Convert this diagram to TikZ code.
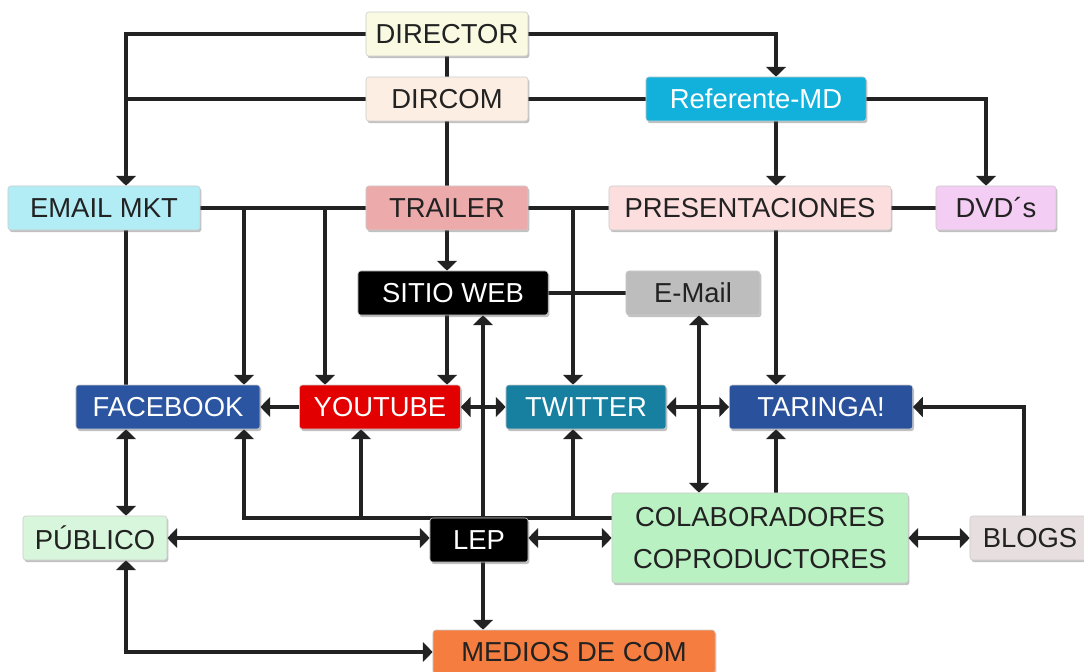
\documentclass[tikz,border=0pt]{standalone}
\usepackage{fontspec}
\setmainfont{Liberation Sans}
\usetikzlibrary{arrows.meta,shadows,backgrounds}

\definecolor{cDirector}{HTML}{FAFAE3}
\definecolor{cDircom}{HTML}{FCEEE3}
\definecolor{cRef}{HTML}{12B1DB}
\definecolor{cEmailmkt}{HTML}{B2EDF6}
\definecolor{cTrailer}{HTML}{ECAAAB}
\definecolor{cPres}{HTML}{FBDEDD}
\definecolor{cDvd}{HTML}{F3CDF3}
\definecolor{cEmail}{HTML}{BDBDBD}
\definecolor{cFacebook}{HTML}{2B55A0}
\definecolor{cYoutube}{HTML}{E30000}
\definecolor{cTwitter}{HTML}{177FA0}
\definecolor{cTaringa}{HTML}{2A529C}
\definecolor{cPublico}{HTML}{D7F6DB}
\definecolor{cColab}{HTML}{BAF1C3}
\definecolor{cBlogs}{HTML}{E7DEDF}
\definecolor{cMedios}{HTML}{F57D3F}
\definecolor{cInk}{HTML}{222222}

\begin{document}
\begin{tikzpicture}[x=0.025cm,y=-0.025cm,
  box/.style={draw=black!20,line width=0.4pt,rounded corners=2pt,inner sep=0pt,
    minimum height=1.1cm,font=\fontsize{19.5}{22}\selectfont,text=cInk,
    drop shadow={shadow xshift=1pt,shadow yshift=-1.5pt,opacity=.35,fill=black!70}},
  wbox/.style={box,text=white},
  arr/.style={-{Triangle[width=14pt,length=7pt]}},
  darr/.style={{Triangle[width=14pt,length=7pt]}-{Triangle[width=14pt,length=7pt]}},
  link/.style={line width=2.3pt,draw=cInk,fill=cInk}]
\useasboundingbox (0,0) rectangle (1084,671);

% boxes
\node[box,fill=cDirector,minimum width=4.05cm] (director) at (447,34) {DIRECTOR};
\node[box,fill=cDircom,minimum width=4.05cm] (dircom) at (447,99) {DIRCOM};
\node[wbox,fill=cRef,minimum width=5.5cm] (referente) at (756,99) {Referente-MD};
\node[box,fill=cEmailmkt,minimum width=4.8cm] (emailmkt) at (104,208) {EMAIL MKT};
\node[box,fill=cTrailer,minimum width=4.05cm] (trailer) at (447,208) {TRAILER};
\node[box,fill=cPres,minimum width=7.05cm] (presentaciones) at (750,208) {PRESENTACIONES};
\node[box,fill=cDvd,minimum width=3cm] (dvds) at (996,208) {DVD´s};
\node[wbox,fill=black,minimum width=4.75cm] (sitioweb) at (453,293) {SITIO WEB};
\node[box,fill=cEmail,minimum width=3.35cm] (email) at (693,293) {E-Mail};
\node[wbox,fill=cFacebook,minimum width=4.6cm] (facebook) at (168,407) {FACEBOOK};
\node[wbox,fill=cYoutube,minimum width=4.02cm] (youtube) at (380,407) {YOUTUBE};
\node[wbox,fill=cTwitter,minimum width=4cm] (twitter) at (586,407) {TWITTER};
\node[wbox,fill=cTaringa,minimum width=4.58cm] (taringa) at (821,407) {TARINGA!};
\node[box,fill=cPublico,minimum width=3.6cm] (publico) at (95,538) {PÚBLICO};
\node[wbox,fill=black,minimum width=2.45cm] (lep) at (479,540) {LEP};
\node[box,fill=cColab,minimum width=7.4cm,minimum height=2.25cm,align=center,
  font=\fontsize{19.5}{30}\selectfont] (colab) at (760,538) {COLABORADORES\\COPRODUCTORES};
\node[box,fill=cBlogs,minimum width=3cm] (blogs) at (1030,538) {BLOGS};
\node[box,fill=cMedios,minimum width=7.05cm] (medios) at (574,652) {MEDIOS DE COM};

% columns and rows of the connectors
\coordinate (cA) at (126,0);
\coordinate (cF) at (244,0);
\coordinate (cY) at (325,0);
\coordinate (cY2) at (361,0);
\coordinate (cL) at (483,0);
\coordinate (cT) at (573,0);
\coordinate (cE) at (699,0);
\coordinate (cR) at (776,0);
\coordinate (cD) at (986,0);
\coordinate (cB) at (1024,0);
\coordinate (cC) at (0,518);

\begin{scope}[on background layer]
\begin{scope}[link]
\draw (director) -- (dircom) -- (trailer);
\draw[arr] (director.west) -| (cA |- emailmkt.north);
\draw (dircom.west) -- (dircom.west -| cA);
\draw[arr] (director.east) -| (cR |- referente.north);
\draw (dircom) -- (referente);
\draw[arr] (referente.south -| cR) -- (presentaciones.north -| cR);
\draw[arr] (referente.east) -| (cD |- dvds.north);
\draw (presentaciones) -- (dvds);

\draw (emailmkt) -- (trailer) -- (presentaciones);
\draw[arr] (cF |- emailmkt) -- (cF |- facebook.north);
\draw[arr] (cY |- emailmkt) -- (cY |- youtube.north);
\draw[arr] (cT |- trailer) -- (cT |- twitter.north);
\draw[arr] (trailer.south) -- (trailer.south |- sitioweb.north);
\draw (sitioweb) -- (email);
\draw[arr] (trailer.south |- sitioweb.south) -- (trailer.south |- youtube.north);
\draw[arr] (presentaciones.south -| cR) -- (taringa.north -| cR);

\draw (emailmkt.south -| cA) -- (facebook.north -| cA);
\draw[arr] (youtube) -- (facebook);
\draw[darr] (youtube) -- (twitter);
\draw[darr] (twitter) -- (taringa);

\draw[darr] (facebook.south -| cA) -- (publico.north -| cA);
\draw[darr] (publico.south -| cA) |- (medios.west);
\draw[darr] (publico.east) -- (publico.east -| lep.west);
\draw[darr] (lep.east |- colab.west) -- (colab.west);
\draw[darr] (colab) -- (blogs);
\draw[arr] (blogs.north -| cB) |- (taringa.east);
\draw[arr] (lep.south -| cL) -- (medios.north -| cL);
\draw[arr] (lep.north -| cL) -- (sitioweb.south -| cL);

\draw[arr] (colab.west |- cC) -| (cF |- facebook.south);
\draw[arr] (cY2 |- cC) -- (cY2 |- youtube.south);
\draw[arr] (cT |- cC) -- (cT |- twitter.south);
\draw[darr] (email.south -| cE) -- (colab.north -| cE);
\draw[arr] (colab.north -| cR) -- (taringa.south -| cR);
\end{scope}
\end{scope}
\end{tikzpicture}
\end{document}
